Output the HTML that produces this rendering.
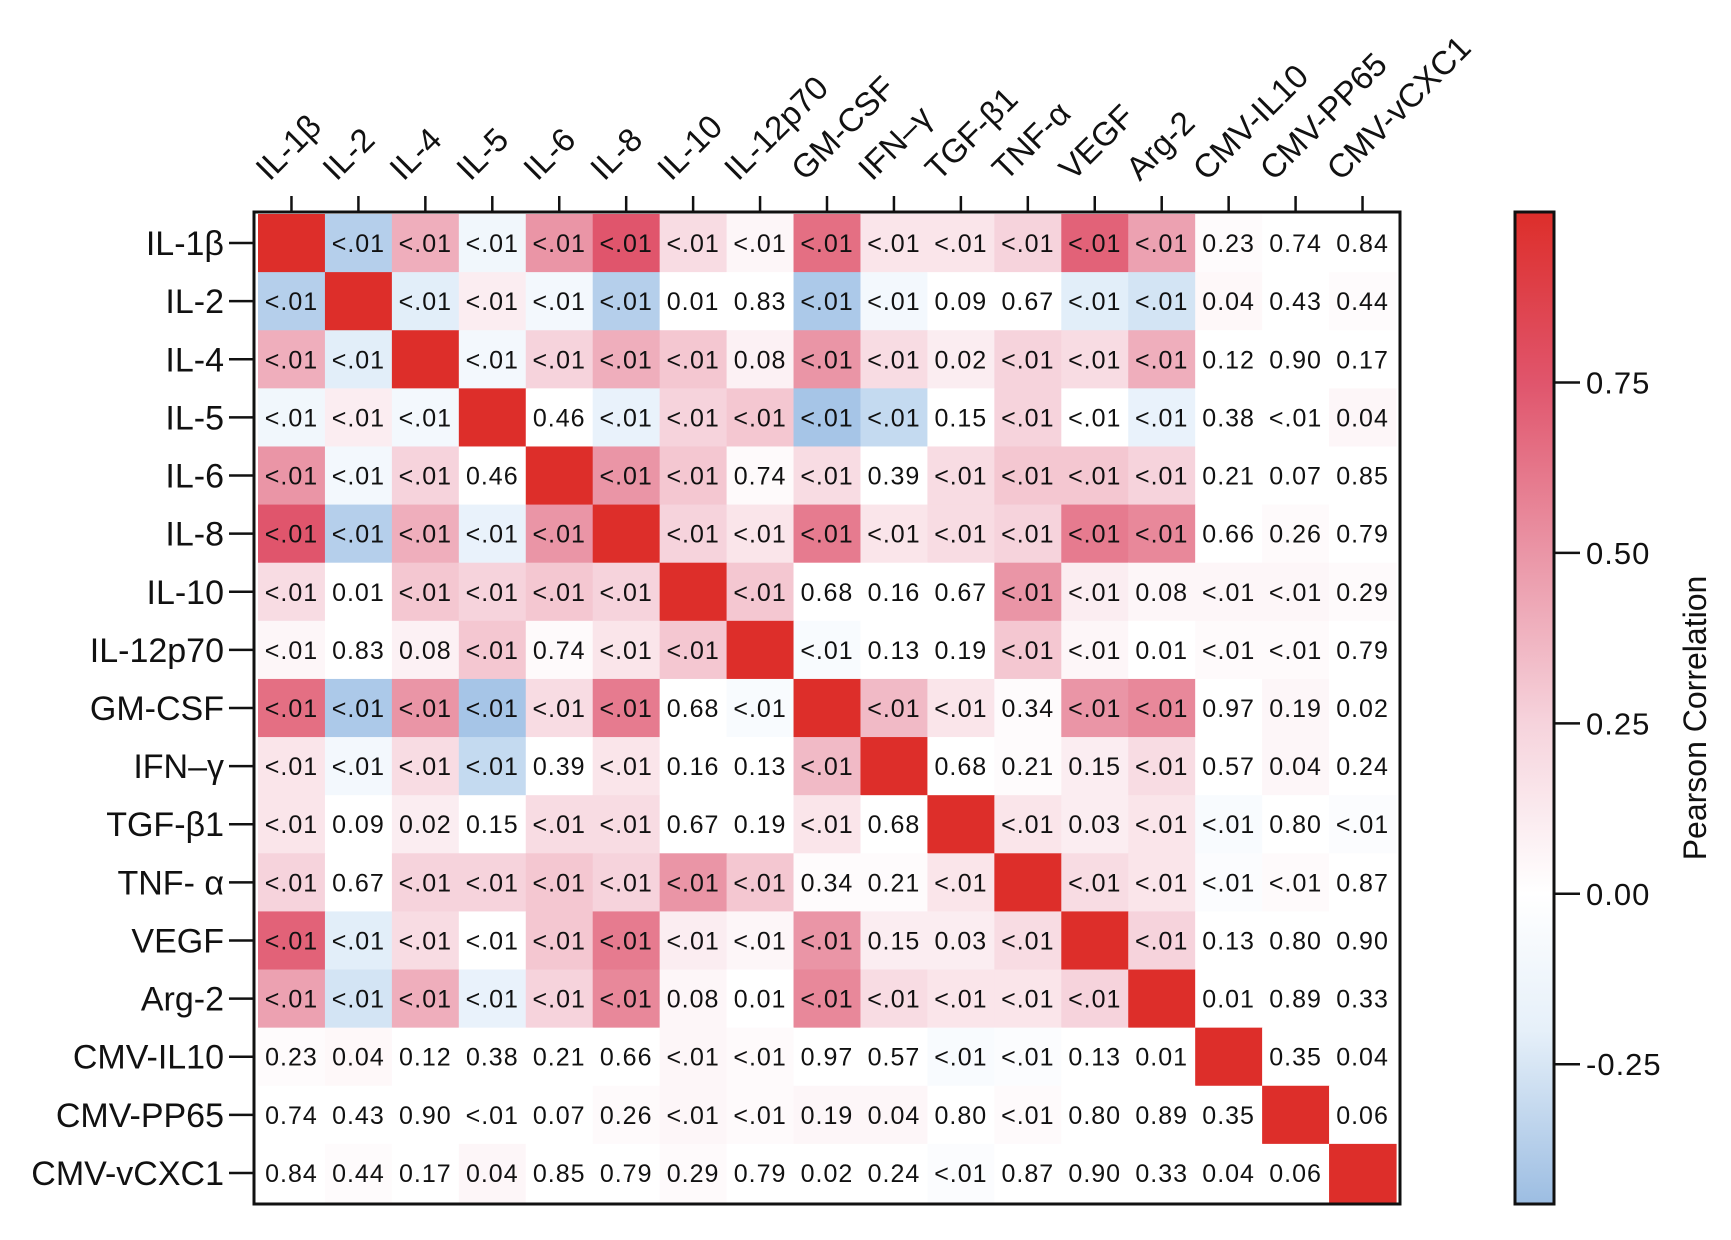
<!DOCTYPE html>
<html><head><meta charset="utf-8"><style>
html,body{margin:0;padding:0;background:#fff;}
svg{display:block;font-family:"Liberation Sans",Arial,sans-serif;}
</style></head><body>
<svg id="chart" width="1731" height="1240" viewBox="0 0 1731 1240" xmlns="http://www.w3.org/2000/svg">
<defs>
<linearGradient id="cbgrad" x1="0" y1="1" x2="0" y2="0">
<stop offset="0" stop-color="#9cbde2"/>
<stop offset="0.175" stop-color="#e6f0f9"/>
<stop offset="0.313" stop-color="#ffffff"/>
<stop offset="0.485" stop-color="#f6d3dc"/>
<stop offset="0.657" stop-color="#ea95a6"/>
<stop offset="0.828" stop-color="#e0556c"/>
<stop offset="1" stop-color="#dd2e2a"/>
</linearGradient>
</defs>
<g id="cells"></g>
<g id="axes"></g>
</svg>
<script>
const labels = ["IL-1β","IL-2","IL-4","IL-5","IL-6","IL-8","IL-10","IL-12p70","GM-CSF","IFN-γ","TGF-β1","TNF-α","VEGF","Arg-2","CMV-IL10","CMV-PP65","CMV-vCXC1"];
const rowLabels = ["IL-1β","IL-2","IL-4","IL-5","IL-6","IL-8","IL-10","IL-12p70","GM-CSF","IFN–γ","TGF-β1","TNF- α","VEGF","Arg-2","CMV-IL10","CMV-PP65","CMV-vCXC1"];
const colLabels = ["IL-1β","IL-2","IL-4","IL-5","IL-6","IL-8","IL-10","IL-12p70","GM-CSF","IFN–γ","TGF-β1","TNF-α","VEGF","Arg-2","CMV-IL10","CMV-PP65","CMV-vCXC1"];
const corr = [
[1,-0.35,0.4,-0.1,0.5,0.75,0.2,0.05,0.65,0.15,0.15,0.25,0.7,0.45,0.02,0,0],
[-0.35,1,-0.2,0.1,-0.08,-0.35,0,0,-0.38,-0.08,0,0,-0.2,-0.25,0.04,0,0.02],
[0.4,-0.2,1,-0.08,0.25,0.4,0.3,0.08,0.5,0.2,0.1,0.25,0.2,0.4,0,0,0],
[-0.1,0.1,-0.08,1,0,-0.15,0.25,0.3,-0.4,-0.3,0,0.25,0,-0.15,0,0,0.05],
[0.5,-0.08,0.25,0,1,0.5,0.3,0.03,0.2,0,0.2,0.3,0.3,0.25,0,0,0],
[0.75,-0.35,0.4,-0.15,0.5,1,0.25,0.15,0.6,0.15,0.2,0.25,0.6,0.55,0,0.03,0],
[0.2,0,0.3,0.25,0.3,0.25,1,0.3,0,0,0,0.5,0.1,0.05,0.05,0.05,0.03],
[0.05,0,0.08,0.3,0.03,0.15,0.3,1,-0.05,0,0,0.3,0.05,0,0.03,0.03,0],
[0.65,-0.38,0.5,-0.4,0.2,0.6,0,-0.05,1,0.35,0.15,0.02,0.5,0.55,0,0.05,0],
[0.15,-0.08,0.2,-0.3,0,0.15,0,0,0.35,1,0,0.02,0.1,0.2,0,0.05,0],
[0.15,0,0.1,0,0.2,0.2,0,0,0.15,0,1,0.15,0.1,0.15,-0.05,0,-0.03],
[0.25,0,0.25,0.25,0.3,0.25,0.5,0.3,0.02,0.02,0.15,1,0.2,0.15,-0.03,0.03,0],
[0.7,-0.2,0.2,0,0.3,0.6,0.1,0.05,0.5,0.1,0.1,0.2,1,0.25,0,0,0],
[0.45,-0.25,0.4,-0.15,0.25,0.55,0.05,0,0.55,0.2,0.15,0.15,0.25,1,0,0,0],
[0.02,0.04,0,0,0,0,0.05,0.03,0,0,-0.05,-0.03,0,0,1,0,0],
[0,0,0,0,0,0.03,0.05,0.03,0.05,0.05,0,0.03,0,0,0,1,0],
[0,0.02,0,0.05,0,0,0.03,0,0,0,-0.03,0,0,0,0,0,1]
];
const pvals = [
["","<.01","<.01","<.01","<.01","<.01","<.01","<.01","<.01","<.01","<.01","<.01","<.01","<.01","0.23","0.74","0.84"],
["<.01","","<.01","<.01","<.01","<.01","0.01","0.83","<.01","<.01","0.09","0.67","<.01","<.01","0.04","0.43","0.44"],
["<.01","<.01","","<.01","<.01","<.01","<.01","0.08","<.01","<.01","0.02","<.01","<.01","<.01","0.12","0.90","0.17"],
["<.01","<.01","<.01","","0.46","<.01","<.01","<.01","<.01","<.01","0.15","<.01","<.01","<.01","0.38","<.01","0.04"],
["<.01","<.01","<.01","0.46","","<.01","<.01","0.74","<.01","0.39","<.01","<.01","<.01","<.01","0.21","0.07","0.85"],
["<.01","<.01","<.01","<.01","<.01","","<.01","<.01","<.01","<.01","<.01","<.01","<.01","<.01","0.66","0.26","0.79"],
["<.01","0.01","<.01","<.01","<.01","<.01","","<.01","0.68","0.16","0.67","<.01","<.01","0.08","<.01","<.01","0.29"],
["<.01","0.83","0.08","<.01","0.74","<.01","<.01","","<.01","0.13","0.19","<.01","<.01","0.01","<.01","<.01","0.79"],
["<.01","<.01","<.01","<.01","<.01","<.01","0.68","<.01","","<.01","<.01","0.34","<.01","<.01","0.97","0.19","0.02"],
["<.01","<.01","<.01","<.01","0.39","<.01","0.16","0.13","<.01","","0.68","0.21","0.15","<.01","0.57","0.04","0.24"],
["<.01","0.09","0.02","0.15","<.01","<.01","0.67","0.19","<.01","0.68","","<.01","0.03","<.01","<.01","0.80","<.01"],
["<.01","0.67","<.01","<.01","<.01","<.01","<.01","<.01","0.34","0.21","<.01","","<.01","<.01","<.01","<.01","0.87"],
["<.01","<.01","<.01","<.01","<.01","<.01","<.01","<.01","<.01","0.15","0.03","<.01","","<.01","0.13","0.80","0.90"],
["<.01","<.01","<.01","<.01","<.01","<.01","0.08","0.01","<.01","<.01","<.01","<.01","<.01","","0.01","0.89","0.33"],
["0.23","0.04","0.12","0.38","0.21","0.66","<.01","<.01","0.97","0.57","<.01","<.01","0.13","0.01","","0.35","0.04"],
["0.74","0.43","0.90","<.01","0.07","0.26","<.01","<.01","0.19","0.04","0.80","<.01","0.80","0.89","0.35","","0.06"],
["0.84","0.44","0.17","0.04","0.85","0.79","0.29","0.79","0.02","0.24","<.01","0.87","0.90","0.33","0.04","0.06",""]
];
const cbTicks = [0.75,0.5,0.25,0,-0.25];
const cbTickLabels = ["0.75","0.50","0.25","0.00","-0.25"];

const NS="http://www.w3.org/2000/svg";
const X0=258, Y0=214, CW=(1396-258)/17, CH=(1202-214)/17;
const xPos = i => X0 + i*CW;
const yPos = j => Y0 + j*CH;
const CB_TOP=212, CB_BOT=1204, CB_MIN=-0.455, CB_MAX=1.0;
const cbY = v => CB_BOT - (v-CB_MIN)/(CB_MAX-CB_MIN)*(CB_BOT-CB_TOP);
const stops=[[-0.455,[150,186,226]],[-0.2,[226,238,249]],[0,[255,255,255]],[0.25,[246,211,220]],[0.5,[234,149,166]],[0.75,[224,85,108]],[1,[221,46,42]]];
function color(v){
  if(v<=stops[0][0]) v=stops[0][0];
  for(let k=1;k<stops.length;k++){
    if(v<=stops[k][0]){
      const a=stops[k-1],b=stops[k],t=(v-a[0])/(b[0]-a[0]);
      const c=a[1].map((x,i)=>Math.round(x+(b[1][i]-x)*t));
      return `rgb(${c[0]},${c[1]},${c[2]})`;
    }
  }
  return "rgb(221,46,42)";
}
function mk(tag,attrs,parent){const e=document.createElementNS(NS,tag);for(const k in attrs)e.setAttribute(k,attrs[k]);parent.appendChild(e);return e;}
const cells=document.getElementById('cells'), axes=document.getElementById('axes');
for(let r=0;r<17;r++){
  for(let c=0;c<17;c++){
    const rect=mk('rect',{x:xPos(c),y:yPos(r),width:CW+0.6,height:CH+0.6,fill:color(corr[r][c])},cells);
    
    
    if(pvals[r][c]){
      const t=mk('text',{x:xPos(c)+CW/2,y:yPos(r)+CH/2+9,'text-anchor':'middle','font-size':25,'letter-spacing':'1',fill:'#111'},cells);
      t.textContent=pvals[r][c];
      
      
    }
  }
}
const fr=mk('rect',{x:254,y:212,width:1146,height:992,fill:'none',stroke:'#111','stroke-width':3},axes);


for(let i=0;i<17;i++){
  const cx=xPos(i)+CW/2, cy=yPos(i)+CH/2;
  mk('line',{x1:cx,y1:196,x2:cx,y2:212,stroke:'#111','stroke-width':2.5},axes);
  mk('line',{x1:229,y1:cy,x2:253,y2:cy,stroke:'#111','stroke-width':2.5},axes);
  const rl=mk('text',{x:224,y:cy+12,'text-anchor':'end','font-size':34,fill:'#111'},axes);
  rl.textContent=rowLabels[i];
  
  
  const cl=mk('text',{x:cx-22,y:182,'font-size':33,fill:'#111',transform:`rotate(-45 ${cx-22} 182)`},axes);
  cl.textContent=colLabels[i];
  
  
}
const cb=mk('rect',{x:1515,y:CB_TOP,width:39,height:CB_BOT-CB_TOP,fill:'url(#cbgrad)',stroke:'#111','stroke-width':3},axes);


cbTicks.forEach((v,i)=>{
  const y=cbY(v);
  mk('line',{x1:1554,y1:y,x2:1580,y2:y,stroke:'#111','stroke-width':2.5},axes);
  const t=mk('text',{x:1586,y:y+11,'font-size':31,'letter-spacing':'1',fill:'#111'},axes);
  t.textContent=cbTickLabels[i];
  
  
});
const ct=mk('text',{x:1706,y:718,'text-anchor':'middle','font-size':32,fill:'#111',transform:'rotate(-90 1706 718)'},axes);
ct.textContent='Pearson Correlation';


</script>
</body></html>
